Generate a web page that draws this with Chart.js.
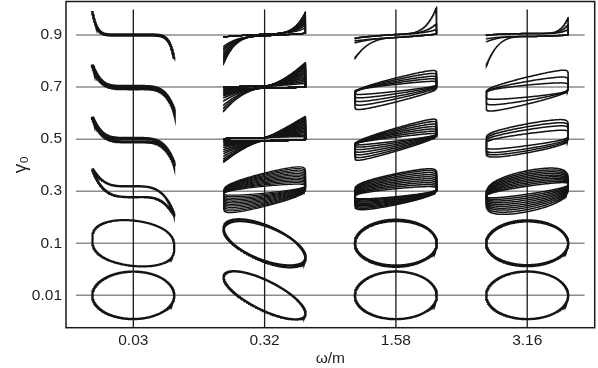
<!DOCTYPE html>
<html><head><meta charset="utf-8">
<script src="https://cdn.jsdelivr.net/npm/chart.js@4.4.1/dist/chart.umd.min.js"></script>
<style>html,body{margin:0;padding:0;background:#fff}canvas{display:block}</style>
</head><body>
<canvas id="c" width="598" height="368"></canvas>
<script>
// Categories / tick labels
const omegaLabels = ['0.03', '0.32', '1.58', '3.16'];
const gammaLabels = ['0.01', '0.1', '0.3', '0.5', '0.7', '0.9'];

// Loop descriptors (stress units: 52 = one gamma row)
// [row, slope, opening, squareness, offset, spikeR, powR, dipL, powL, oddAmp, oddPow]
const loops003 = [
  [0, 0, 23.7, 1, 0, 0, 1, 0, 1, 0, 1],
  [1, -4, 22.7, 0.75, 0, 0, 1, 0, 1, 0, 1],
  [2, 0, 5.5, 1, -0.5, 0, 1, 0, 1, -23, 3.8],
  [3, 0, 1.8, 1, -1, 0, 1, 0, 1, -23.5, 4.5],
  [4, 0, 1.2, 1, -0.5, 0, 1, 0, 1, -23, 5],
  [5, 0, 0.6, 1, 0, 0, 1, 0, 1, -24, 9]
];
const loops032 = [
  [0, -18, 16, 1, 0, 0, 1, 0, 1, 0, 1],
  [1, -13.5, 17.5, 1, 0, 0, 1, 0, 1, 0, 1],
  [1, -15, 18.8, 1, 0, 0, 1, 0, 1, 0, 1],
  [2, 4.0, 3.5, 0.8, 1.5, 0, 1, 0, 1, 0, 1],
  [2, 4.6, 4.8, 0.7, 1.5, 0, 1, 0, 1, 0, 1],
  [2, 5.2, 6.0, 0.6, 1.5, 0, 1, 0, 1, 0, 1],
  [2, 5.8, 7.2, 0.55, 1.5, 0, 1, 0, 1, 0, 1],
  [2, 6.3, 8.4, 0.5, 1.5, 0, 1, 0, 1, 0, 1],
  [2, 6.8, 9.6, 0.45, 1.5, 0, 1, 0, 1, 0, 1],
  [2, 7.3, 10.8, 0.4, 1.5, 0, 1, 0, 1, 0, 1],
  [2, 7.8, 12.0, 0.37, 1.5, 0, 1, 0, 1, 0, 1],
  [2, 8.4, 13.2, 0.34, 1.5, 0, 1, 0, 1, 0, 1],
  [2, 9.0, 14.4, 0.31, 1.5, 0, 1, 0, 1, 0, 1],
  [2, 9.6, 15.6, 0.28, 1.5, 0, 1, 0, 1, 0, 1],
  [2, 10.2, 16.7, 0.25, 1.5, 0, 1, 0, 1, 0, 1],
  [3, 0, 1.5, 1, 0, 2, 1.2, 1, 1.5, 0, 1],
  [3, 0, 1.5, 1, 0, 3.5, 1.2, 2, 1.5, 0, 1],
  [3, 0, 1.5, 1, 0, 5, 1.2, 2.5, 1.5, 0, 1],
  [3, 0, 1.5, 1, 0, 6.5, 1.2, 3.5, 1.5, 0, 1],
  [3, 0, 1.5, 1, 0, 8, 1.2, 4.5, 1.5, 0, 1],
  [3, 0, 1.5, 1, 0, 9.5, 1.2, 5.5, 1.5, 0, 1],
  [3, 0, 1.5, 1, 0, 11, 1.2, 6.5, 1.5, 0, 1],
  [3, 0, 1.5, 1, 0, 12.5, 1.2, 8, 1.5, 0, 1],
  [3, 0, 1.5, 1, 0, 14, 1.2, 10, 1.5, 0, 1],
  [3, 0, 1.5, 1, 0, 15.5, 1.2, 12, 1.5, 0, 1],
  [3, 0, 1.5, 1, 0, 17, 1.2, 14, 1.5, 0, 1],
  [3, 0, 1.5, 1, 0, 18.5, 1.2, 16.5, 1.5, 0, 1],
  [3, 0, 1.5, 1, 0, 20, 1.2, 19, 1.5, 0, 1],
  [3, 0, 1.5, 1, 0, 21.3, 1.2, 21, 1.5, 0, 1],
  [3, 0, 1.5, 1, 0, 22.6, 1.2, 22.4, 1.5, 0, 1],
  [4, 0.5, 1, 1, 0, 3, 1.6, 1, 2, 0, 1],
  [4, 0.5, 1, 1, 0, 5, 1.6, 2, 2, 0, 1],
  [4, 0.5, 1, 1, 0, 7, 1.6, 3, 2, 0, 1],
  [4, 0.5, 1, 1, 0, 9, 1.6, 4, 2, 0, 1],
  [4, 0.5, 1, 1, 0, 11, 1.6, 5, 2, 0, 1],
  [4, 0.5, 1, 1, 0, 13, 1.6, 6, 2, 0, 1],
  [4, 0.5, 1, 1, 0, 15, 1.6, 7, 2, 0, 1],
  [4, 0.5, 1, 1, 0, 17, 1.6, 8, 2, 0, 1],
  [4, 0.5, 1, 1, 0, 19, 1.6, 10, 2, 0, 1],
  [4, 0.5, 1, 1, 0, 20.5, 1.6, 13, 2, 0, 1],
  [4, 0.5, 1, 1, 0, 22, 1.6, 17, 2, 0, 1],
  [4, 0.5, 1, 1, 0, 23.5, 1.6, 20, 2, 0, 1],
  [4, 0.5, 1, 1, 0, 24, 1.6, 23, 2, 0, 1],
  [5, 2, 0.8, 1, 0, 5, 4, 9, 3.5, 0, 1],
  [5, 2, 0.8, 1, 0, 8, 4, 11, 3.5, 0, 1],
  [5, 2, 0.8, 1, 0, 10, 4, 13, 3.5, 0, 1],
  [5, 2, 0.8, 1, 0, 12, 4, 15.5, 3.5, 0, 1],
  [5, 2, 0.8, 1, 0, 14, 4, 18, 3.5, 0, 1],
  [5, 2, 0.8, 1, 0, 16.5, 4, 20.5, 3.5, 0, 1],
  [5, 2, 0.8, 1, 0, 19, 4, 23, 3.5, 0, 1],
  [5, 2, 0.8, 1, 0, 21.7, 4, 25.7, 3.5, 0, 1]
];
const loops158 = [
  [0, 0, 23.8, 1, 0, 0, 1, 0, 1, 0, 1],
  [1, 0, 22.2, 1, 0, 0, 1, 0, 1, 0, 1],
  [1, 0, 23.6, 1, 0, 0, 1, 0, 1, 0, 1],
  [2, 4, 4, 0.6, -1.5, 0, 1, 0, 1, 0, 1],
  [2, 4.5, 5.3, 0.55, -1, 0, 1, 0, 1, 0, 1],
  [2, 5, 6.6, 0.5, -0.6, 0, 1, 0, 1, 0, 1],
  [2, 5.5, 7.9, 0.45, -0.2, 0, 1, 0, 1, 0, 1],
  [2, 6, 9.2, 0.4, 0.2, 0, 1, 0, 1, 0, 1],
  [2, 6.5, 10.5, 0.37, 0.6, 0, 1, 0, 1, 0, 1],
  [2, 7, 11.8, 0.33, 1, 0, 1, 0, 1, 0, 1],
  [2, 7.5, 13.1, 0.3, 1.4, 0, 1, 0, 1, 0, 1],
  [2, 8, 14.4, 0.27, 1.8, 0, 1, 0, 1, 0, 1],
  [2, 8.5, 15.5, 0.25, 2, 0, 1, 0, 1, 0, 1],
  [3, 5, 2, 0.6, 0, 0, 1, 0, 1, 0, 1],
  [3, 6.2, 3.6, 0.5, 0, 0, 1, 0, 1, 0, 1],
  [3, 7.4, 5.2, 0.42, -0.1, 0, 1, 0, 1, 0, 1],
  [3, 8.6, 6.8, 0.35, -0.2, 0, 1, 0, 1, 0, 1],
  [3, 9.8, 8.4, 0.3, -0.3, 0, 1, 0, 1, 0, 1],
  [3, 11, 10, 0.25, -0.4, 0, 1, 0, 1, 0, 1],
  [3, 12, 11.5, 0.2, -0.5, 0, 1, 0, 1, 0, 1],
  [4, 4.5, 3.5, 0.4, -0.8, 0, 1, 0, 1, 0, 1],
  [4, 6, 5.5, 0.35, -1.2, 0, 1, 0, 1, 0, 1],
  [4, 7.5, 7.5, 0.3, -1.8, 0, 1, 0, 1, 0, 1],
  [4, 9, 9.6, 0.25, -2.2, 0, 1, 0, 1, 0, 1],
  [4, 10.4, 12, 0.2, -2.9, 0, 1, 0, 1, 0, 1],
  [5, 2.5, 1.5, 1, -1, 4, 4, 2, 3, 0, 1],
  [5, 2.5, 1.5, 1, -1, 10, 4, 4, 3, 0, 1],
  [5, 2.5, 1.5, 1, -1, 27, 4, 19, 3, 0, 1]
];
const loops316 = [
  [0, 0, 23.8, 1, 0, 0, 1, 0, 1, 0, 1],
  [1, 0, 21.8, 1, 0, 0, 1, 0, 1, 0, 1],
  [1, 0, 23, 1, 0, 0, 1, 0, 1, 0, 1],
  [2, 6, 4, 0.7, 1, 0, 1, 0, 1, 0, 1],
  [2, 6.2, 5.8, 0.68, 0.9, 0, 1, 0, 1, 0, 1],
  [2, 6.4, 7.6, 0.66, 0.8, 0, 1, 0, 1, 0, 1],
  [2, 6.6, 9.4, 0.64, 0.7, 0, 1, 0, 1, 0, 1],
  [2, 6.8, 11.2, 0.62, 0.6, 0, 1, 0, 1, 0, 1],
  [2, 7, 13, 0.6, 0.5, 0, 1, 0, 1, 0, 1],
  [2, 7.3, 14.8, 0.57, 0.4, 0, 1, 0, 1, 0, 1],
  [2, 7.5, 16.6, 0.55, 0.3, 0, 1, 0, 1, 0, 1],
  [2, 7.8, 18.5, 0.52, 0.15, 0, 1, 0, 1, 0, 1],
  [2, 8, 20.5, 0.5, 0, 0, 1, 0, 1, 0, 1],
  [3, 5.5, 6, 0.35, -0.5, 0, 1, 0, 1, 0, 1],
  [3, 6.5, 9.5, 0.3, 0, 0, 1, 0, 1, 0, 1],
  [3, 7, 12, 0.27, 0.4, 0, 1, 0, 1, 0, 1],
  [3, 7.5, 14.5, 0.25, 0.8, 0, 1, 0, 1, 0, 1],
  [4, 4, 6, 0.35, -4, 0, 1, 0, 1, 0, 1],
  [4, 7, 9.5, 0.28, -3.8, 0, 1, 0, 1, 0, 1],
  [4, 10, 13.5, 0.2, -3.5, 0, 1, 0, 1, 0, 1],
  [5, 0.5, 1.5, 1, 0, 5, 6, 3, 3.5, 0, 1],
  [5, 0.5, 1.5, 1, 0, 10, 6, 6, 3.5, 0, 1],
  [5, 0.5, 1.5, 1, 0, 17, 6, 29.5, 3.5, 0, 1]
];
const loopsByColumn = [loops003, loops032, loops158, loops316];

// ---- geometry / style (not data) ----
const ROW_UNITS = 52.06;       // stress units per gamma row
const HALF_WIDTH = 41 / 131.3; // loop half width in omega-axis units
const SAMPLES = 360;
const INK = '#141414';

function loopPoints(col, d) {
  const [row, m, c, p, off, kR, nR, kL, nL, q, nq] = d;
  const pts = [];
  for (let k = 0; k <= SAMPLES; k++) {
    const t = -Math.PI / 2 + 2 * Math.PI * k / SAMPLES;
    const x = Math.sin(t), s = Math.cos(t), ax = Math.abs(x);
    let y = off + m * x + c * Math.sign(s) * Math.pow(Math.abs(s), p) + q * Math.sign(x) * Math.pow(ax, nq);
    if (x > 0 && s > 0) y += kR * Math.pow(ax, nR);
    if (x < 0 && s < 0) y -= kL * Math.pow(ax, nL);
    pts.push({ x: col + x * HALF_WIDTH, y: row + y / ROW_UNITS });
  }
  return pts;
}
function widthFor(col, row) {
  if (row === 0) return 2.4;
  if (row === 1) return 2.2;
  if (col === 0) return (row === 3 || row === 4) ? 3.2 : 2.4;
  if (col === 1) return (row === 3 || row === 4) ? 1.5 : 1.25;
  return 1.5;
}

const datasets = [];
gammaLabels.forEach((g, r) => {
  datasets.push({ data: [{ x: -0.437, y: r }, { x: omegaLabels.length - 1 + 0.437, y: r }],
    showLine: true, borderColor: '#8c8c8c', borderWidth: 1.5, pointRadius: 0, order: 3 });
});
omegaLabels.forEach((w, c) => {
  datasets.push({ data: [{ x: c, y: -0.63 }, { x: c, y: gammaLabels.length - 1 + 0.49 }],
    showLine: true, borderColor: '#1a1a1a', borderWidth: 1.3, pointRadius: 0, order: 2 });
});
loopsByColumn.forEach((list, col) => {
  list.forEach(d => {
    datasets.push({ data: loopPoints(col, d), showLine: true, borderColor: INK,
      borderWidth: widthFor(col, d[0]), pointRadius: 0, tension: 0, order: 1 });
  });
});

const frame = {
  id: 'frame',
  afterDraw(chart) {
    const { ctx, chartArea: a } = chart;
    ctx.save();
    ctx.strokeStyle = '#1a1a1a';
    ctx.lineWidth = 1.5;
    ctx.strokeRect(a.left, a.top, a.right - a.left, a.bottom - a.top);
    ctx.restore();
  }
};

const FONT = { family: "'Liberation Sans', Arial, Helvetica, sans-serif", size: 15.5 };
new Chart(document.getElementById('c'), {
  type: 'scatter',
  data: { datasets },
  options: {
    responsive: false, animation: false, devicePixelRatio: 1,
    layout: { padding: { top: 1.5, right: 3.3, left: 0, bottom: 0 } },
    plugins: { legend: { display: false }, tooltip: { enabled: false } },
    scales: {
      x: {
        type: 'linear', min: -0.5126, max: 3.514,
        afterBuildTicks: s => { s.ticks = omegaLabels.map((_, i) => ({ value: i })); },
        afterFit: s => { s.height = 40.3; s.paddingLeft = 0; s.paddingRight = 0; },
        ticks: { callback: v => omegaLabels[v], font: FONT, color: '#1e1e1e', padding: 4, maxRotation: 0, autoSkip: false },
        grid: { display: false, drawTicks: false },
        border: { display: false },
        title: { display: true, text: 'ω/m', font: FONT, color: '#1e1e1e', padding: { top: 4, bottom: 0 } }
      },
      y: {
        type: 'linear', min: -0.622, max: 5.644,
        afterBuildTicks: s => { s.ticks = gammaLabels.map((_, i) => ({ value: i })); },
        afterFit: s => { s.width = 66; s.paddingTop = 0; s.paddingBottom = 0; },
        ticks: { callback: v => gammaLabels[v], font: FONT, color: '#1e1e1e', padding: 4, autoSkip: false },
        grid: { display: false, drawTicks: false },
        border: { display: false },
        title: { display: true, text: 'γ₀', font: { family: FONT.family, size: 19 }, color: '#1e1e1e', padding: { top: 9, bottom: 0 } }
      }
    }
  },
  plugins: [frame]
});
</script>
</body></html>
